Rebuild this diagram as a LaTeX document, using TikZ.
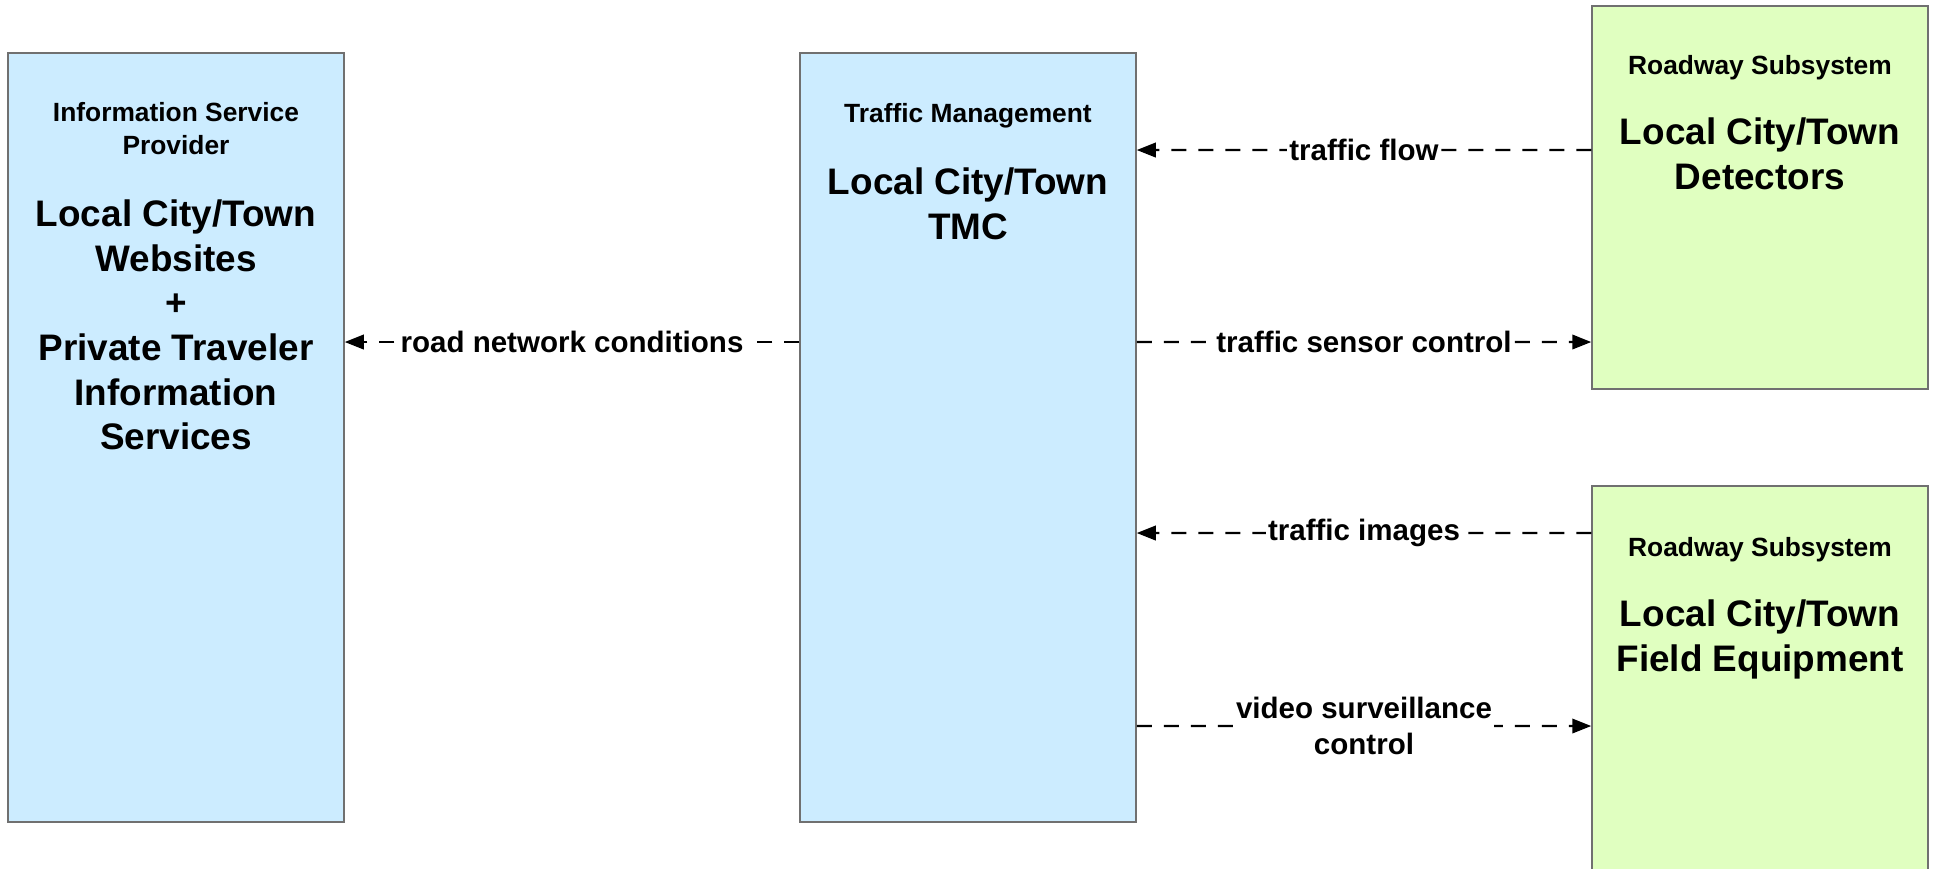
\documentclass[tikz,border=0pt]{standalone}
\usepackage{fontspec}
\setmainfont{Liberation Sans}
\usetikzlibrary{arrows.meta, positioning}

\definecolor{centerblue}{RGB}{204,236,255}
\definecolor{fieldgreen}{RGB}{224,255,192}
\definecolor{edgegray}{RGB}{112,112,112}

\tikzset{
  sysbox/.style={draw=edgegray, line width=0.15mm, minimum width=3.36cm, inner sep=0pt},
  centerbox/.style={sysbox, fill=centerblue, minimum height=7.69cm},
  roadbox/.style={sysbox, fill=fieldgreen},
  classtext/.style={font=\bfseries\fontsize{7.5}{9.4}\selectfont, align=center, inner sep=0pt},
  nametext/.style={font=\bfseries\fontsize{10.5}{12.7}\selectfont, align=center, inner sep=0pt},
  flowline/.style={line width=0.22mm, dash pattern=on 1.5mm off 1.2mm, -{Triangle[length=1.9mm,width=1.45mm]}},
  flowlabel/.style={font=\bfseries\fontsize{8.4}{10}\selectfont, align=center, fill=white, inner sep=0.6pt}
}

\begin{document}
\begin{tikzpicture}
\clip (0,0) rectangle (19.37,-8.68);

% Information Service Provider
\node[centerbox] (isp) at (1.76,-4.375) {};
\node[classtext, below=4.9mm of isp.north] (ispclass) {Information Service\\Provider};
\node[nametext, below=4.4mm of ispclass] (ispname) {Local City/Town\\Websites\\+\\Private Traveler\\Information\\Services};

% Traffic Management
\node[centerbox] (tmc) at (9.68,-4.375) {};
\node[classtext, below=5mm of tmc.north] (tmcclass) {Traffic Management};
\node[nametext, below=3.9mm of tmcclass] (tmcname) {Local City/Town\\TMC};

% Roadway Subsystem - detectors
\node[roadbox, minimum height=3.83cm] (det) at (17.60,-1.975) {};
\node[classtext, below=4.9mm of det.north] (detclass) {Roadway Subsystem};
\node[nametext, below=3.7mm of detclass] (detname) {Local City/Town\\Detectors};

% Roadway Subsystem - field equipment
\node[roadbox, minimum height=4.64cm] (fld) at (17.60,-7.18) {};
\node[classtext, below=5.1mm of fld.north] (fldclass) {Roadway Subsystem};
\node[nametext, below=3.7mm of fldclass] (fldname) {Local City/Town\\Field Equipment};

% Flows
\draw[flowline] ([yshift=9.55mm]tmc.west) -- node[flowlabel] {road network conditions} ([yshift=9.55mm]isp.east);
\draw[flowline] ([yshift=4.75mm]det.west) -- node[flowlabel] {traffic flow} ([yshift=28.75mm]tmc.east);
\draw[flowline] ([yshift=9.55mm]tmc.east) -- node[flowlabel] {traffic sensor control} ([yshift=-14.45mm]det.west);
\draw[flowline] ([yshift=18.5mm]fld.west) -- node[flowlabel] {traffic images} ([yshift=-9.55mm]tmc.east);
\draw[flowline] ([yshift=-28.85mm]tmc.east) -- node[flowlabel] {video surveillance\\control} ([yshift=-0.8mm]fld.west);
\end{tikzpicture}
\end{document}
